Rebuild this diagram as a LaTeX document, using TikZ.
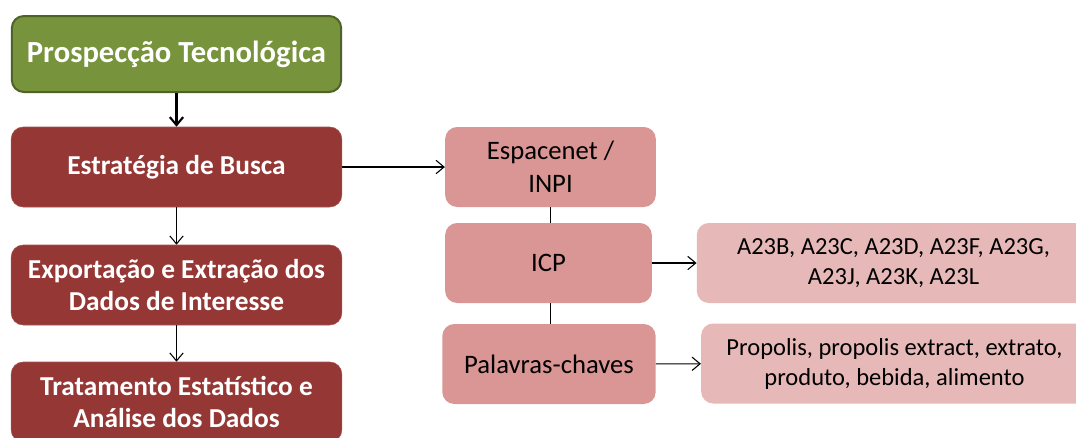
\documentclass[tikz,border=0pt]{standalone}
\usepackage{fontspec}
\setmainfont{Carlito}
\usetikzlibrary{arrows.meta,positioning}
\definecolor{OliveFill}{HTML}{77933C}
\definecolor{OliveLine}{HTML}{4F6228}
\definecolor{BrickRed}{HTML}{953735}
\definecolor{RoseMid}{HTML}{D99694}
\definecolor{RoseSoft}{HTML}{E6B9B8}

\begin{document}
\begin{tikzpicture}[x=0.75pt,y=-0.75pt,>={Straight Barb[length=6pt,width=10pt]},
    stage/.style={fill=BrickRed,draw=BrickRed!85!white,rounded corners=9pt,
      minimum width=248pt,minimum height=60pt,align=center,text=white,
      font=\fontsize{20.5}{24}\selectfont\bfseries},
    source/.style={fill=RoseMid,rounded corners=9pt,minimum height=60pt,
      align=center,font=\fontsize{20}{25}\selectfont},
    detail/.style={fill=RoseSoft,rounded corners=9pt,minimum height=60pt,
      align=center,font=\fontsize{18.4}{22.5}\selectfont},
    link/.style={line width=0.8pt}]
  \clip (0,0) rectangle (1076,437);
  \fill[white] (0,0) rectangle (1076,437);

  % left column
  \node[fill=OliveFill,draw=OliveLine,line width=1.5pt,rounded corners=9pt,
    minimum width=247pt,minimum height=57pt,text=white,
    font=\fontsize{23}{27}\selectfont\bfseries] (prosp) at (176.5,54) {Prospecção Tecnológica};
  \node[stage] (busca) at (176.5,167) {Estratégia de Busca};
  \node[stage] (export) at (176.5,285) {Exportação e Extração dos\\Dados de Interesse};
  \node[stage] (trat) at (176.5,402) {Tratamento Estatístico e\\Análise dos Dados};

  % middle column
  \node[source,minimum width=158pt] (esp) at (550.5,167) {Espacenet /\\INPI};
  \node[source,minimum width=155pt] (icp) at (548.5,263) {ICP};
  \node[source,minimum width=160pt] (palav) at (549,364) {Palavras-chaves};

  % right column
  \node[detail,minimum width=295pt] (codes) at (893.5,263) {A23B, A23C, A23D, A23F, A23G,\\A23J, A23K, A23L};
  \node[detail,minimum width=290pt] (terms) at (894.5,363.5) {Propolis, propolis extract, extrato,\\produto, bebida, alimento};

  \draw[line width=1.6pt,->] (prosp) -- (busca);
  \draw[link,->] (busca) -- (export);
  \draw[link,->] (export) -- (trat);
  \draw[link,->] (busca) -- (esp);
  \draw[link] (esp.south) -- (esp.south |- icp.north);
  \draw[link] (esp.south |- icp.south) -- (esp.south |- palav.north);
  \draw[link,->] (icp) -- (codes);
  \draw[link,->] (palav) -- (terms);
\end{tikzpicture}
\end{document}
